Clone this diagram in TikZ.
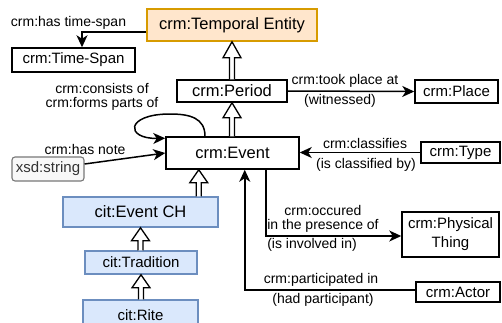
\documentclass[tikz,border=0pt]{standalone}
\usepackage{fontspec}
\setmainfont{Liberation Sans}
\usetikzlibrary{arrows.meta,calc}
\definecolor{tefill}{HTML}{FFE6CC}
\definecolor{tedraw}{HTML}{D79B00}
\definecolor{citfill}{HTML}{DAE8FC}
\definecolor{citdraw}{HTML}{6C8EBF}
\definecolor{litfill}{HTML}{F8F8F8}
\definecolor{litdraw}{HTML}{777777}
\definecolor{littext}{HTML}{333333}

% hollow block arrow for subclass links: #1 tail point, #2 tip point, #3 head length
\newcommand\inherit[3]{%
  \draw[inh] ($(#2 |- #1)+(-2.5,0)$) -- ($(#2)+(-2.5,#3)$) -- ($(#2)+(-9,#3)$)
    -- (#2) -- ($(#2)+(9,#3)$) -- ($(#2)+(2.5,#3)$) -- ($(#2 |- #1)+(2.5,0)$);}

\begin{document}
\begin{tikzpicture}[x=1pt,y=-1pt,
  cls/.style={draw=black, line width=1.5pt, fill=white, inner sep=0pt,
    font=\fontsize{15}{19}\selectfont, align=center},
  big/.style={font=\fontsize{16.5}{19}\selectfont},
  temporal/.style={fill=tefill, draw=tedraw},
  cit/.style={fill=citfill, draw=citdraw},
  literal/.style={fill=litfill, draw=litdraw, rounded corners=3pt, text=littext,
    line width=1.1pt},
  lbl/.style={inner sep=0pt, font=\fontsize{14}{14}\selectfont, align=center},
  rel/.style={line width=1.5pt, -{Stealth[length=12pt,width=11pt,inset=3.5pt]}},
  inh/.style={draw=black, line width=1.3pt, fill=white, line join=miter}]
\useasboundingbox (0,0) rectangle (502,322);
\clip (0,0) rectangle (502,322);

% classes
\node[cls, big, temporal, minimum width=170pt, minimum height=32pt] (te) at (232,25) {crm:Temporal Entity};
\node[cls, minimum width=123pt, minimum height=24pt] (ts) at (73.5,60) {crm:Time-Span};
\node[cls, big, minimum width=110pt, minimum height=22pt] (per) at (232,91) {crm:Period};
\node[cls, minimum width=83pt, minimum height=23pt] (pl) at (456.5,91.5) {crm:Place};
\node[cls, big, minimum width=133pt, minimum height=32pt] (ev) at (232.5,153) {crm:Event};
\node[cls, minimum width=79pt, minimum height=21pt] (ty) at (460.5,152.5) {crm:Type};
\node[cls, literal, minimum width=72pt, minimum height=24pt] (xs) at (48,169) {xsd:string};
\node[cls, big, cit, minimum width=155pt, minimum height=30pt] (ech) at (140.5,212) {cit:Event CH};
\node[cls, cit, minimum width=112pt, minimum height=23pt] (tr) at (141,262.5) {cit:Tradition};
\node[cls, cit, minimum width=115pt, minimum height=30pt] (ri) at (140.5,315) {cit:Rite};
\node[cls, minimum width=97pt, minimum height=45pt] (pt) at (450.5,234.5) {crm:Physical\\Thing};
\node[cls, minimum width=84pt, minimum height=20pt] (ac) at (458,292) {crm:Actor};

% subclass links
\inherit{per.north}{te.south}{16}
\inherit{ev.north}{per.south}{15}
\coordinate (echtop) at ([xshift=-20pt]ech.north east);
\coordinate (evbase) at (echtop |- ev.south);
\inherit{echtop}{evbase}{13}
\inherit{tr.north}{ech.south}{13}
\inherit{ri.north}{tr.south}{13}

% properties
\draw[rel] ([yshift=-7pt]te.west) -| ([xshift=8.5pt]ts.north);
\node[lbl] (l1) at (68.5,23) {crm:has time-span};

\draw[rel] (per.east) -- (pl.west);
\node[lbl] (l2) at (345,81) {crm:took place at};
\node[lbl] (l3) at (340,101) {(witnessed)};

\draw[rel] (ty.west) -- (ty.west -| ev.east);
\node[lbl] (l4) at (365,143) {crm:classifies};
\node[lbl] (l5) at (366,165) {(is classified by)};

\coordinate (looptop) at (170,114);
\draw[rel] ([xshift=-27.5pt]ev.north) .. controls (205,118) and (190,114) .. (looptop)
  .. controls (125,114) and (125,139) .. ([yshift=-2pt]ev.north west);
\node[lbl] (l6) at (102,97) {crm:consists of\\crm:forms parts of};

\draw[rel] ([yshift=5pt]xs.east) -- (ev.west);
\node[lbl] (l7) at (85,149) {crm:has note};

\draw[rel] ([xshift=-34pt]ev.south east) |- ([yshift=-1.5pt]pt.west);
\node[lbl] (l8) at (323,219) {crm:occured\\in the presence of};
\node[lbl] (l9) at (312,245) {(is involved in)};

\draw[rel] ([yshift=2pt]ac.west) -| ([xshift=-55pt]ev.south east);
\node[lbl] (l10) at (321,280) {crm:participated in};
\node[lbl] (l11) at (323,300) {(had participant)};
\end{tikzpicture}
\end{document}
